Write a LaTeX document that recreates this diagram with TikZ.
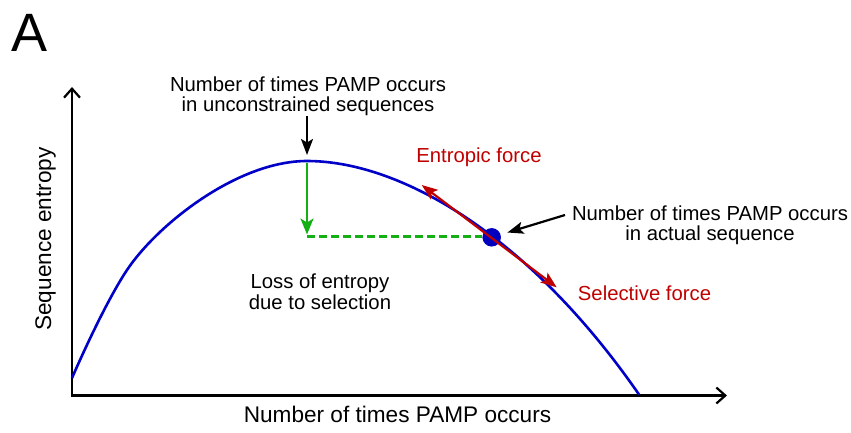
\documentclass[tikz,border=0pt]{standalone}
\usepackage{fontspec}
\setmainfont{Liberation Sans}
\usetikzlibrary{arrows.meta}
\definecolor{curveblue}{RGB}{0,0,200}
\definecolor{dotblue}{RGB}{0,0,190}
\definecolor{forcered}{RGB}{192,0,0}
\definecolor{lossgreen}{RGB}{20,175,20}
\tikzset{
  lbl/.style={inner sep=0pt, align=center, font=\fontsize{20.3}{20.5}\selectfont},
  bigl/.style={inner sep=0pt, font=\fontsize{22.6}{24}\selectfont},
  axisline/.style={line width=2.4pt, line join=miter},
  blkarrow/.style={line width=2.2pt, -{Stealth[length=16pt,width=12pt,inset=3.5pt]}},
  grnarrow/.style={line width=2.2pt, lossgreen, -{Stealth[length=16pt,width=13pt,inset=4pt]}},
  redarrow/.style={line width=2.2pt, forcered, {Stealth[length=16pt,width=12pt,inset=3.5pt]}-{Stealth[length=16pt,width=12pt,inset=3.5pt]}},
  dashgreen/.style={line width=2.2pt, lossgreen, dash pattern=on 8pt off 4pt},
}
\begin{document}
\begin{tikzpicture}[x=1pt,y=-1pt]
\useasboundingbox (0,0) rectangle (851,432);
% panel letter
\node[inner sep=0pt, anchor=base west, font=\fontsize{54}{54}\selectfont] (letter) at (11,51) {A};
% axes
\coordinate (yt) at (72,87);
\coordinate (o) at (72,395.5);
\coordinate (xt) at (727,395.5);
\draw[axisline, {Straight Barb[length=9pt,width=16pt,line width=2.2pt]}-{Straight Barb[length=9pt,width=16pt,line width=2.2pt]}] (yt) -- (o) -- (xt);
% curve
\coordinate (cstart) at (72,378);
\coordinate (bend) at (127,270);
\coordinate (peak) at (307,161);
\coordinate (cend) at (639,394.5);
\draw[curveblue, line width=2.6pt, line cap=butt]
  (cstart) .. controls (82,355) and (107,300) .. (bend)
  .. controls (157,225) and (237,161) .. (peak)
  .. controls (402,161) and (530,237) .. (cend);
% point on the curve
\node[circle, fill=dotblue, minimum size=18.5pt, inner sep=0pt] (pt) at (491.7,237.3) {};
% green loss
\coordinate (gtop) at (307,163);
\coordinate (gtip) at (307,234.5);
\coordinate (lossend) at (307,236.5);
\draw[dashgreen] (lossend) -- (lossend -| pt.west);
\draw[grnarrow] (gtop) -- (gtip);
% red tangent arrows
\coordinate (entt) at (421.7,185);
\coordinate (selt) at (556.7,287.3);
\draw[redarrow] (entt) -- (selt);
% labels
\node[lbl, anchor=base] (toplbl) at (308,111.5) {Number of times PAMP occurs\\in unconstrained sequences};
\coordinate (topstart) at (307,116);
\coordinate (toptip) at (307,155);
\draw[blkarrow] (topstart) -- (toptip);
\node[lbl, anchor=base] (actlbl) at (710,240.5) {Number of times PAMP occurs\\in actual sequence};
\coordinate (actstart) at (565,215);
\draw[blkarrow, shorten >=7pt] (actstart) -- (pt);
\node[lbl, anchor=base, text=forcered] (entlbl) at (479,162.5) {Entropic force};
\node[lbl, anchor=base, text=forcered] (sellbl) at (644.5,300.5) {Selective force};
\node[lbl, anchor=base] (losslbl) at (320,309.3) {Loss of entropy\\due to selection};
\node[bigl, anchor=base] (xlbl) at (397.5,422.3) {Number of times PAMP occurs};
\node[bigl, anchor=base, rotate=90] (ylbl) at (51,239) {Sequence entropy};
\end{tikzpicture}
\end{document}
